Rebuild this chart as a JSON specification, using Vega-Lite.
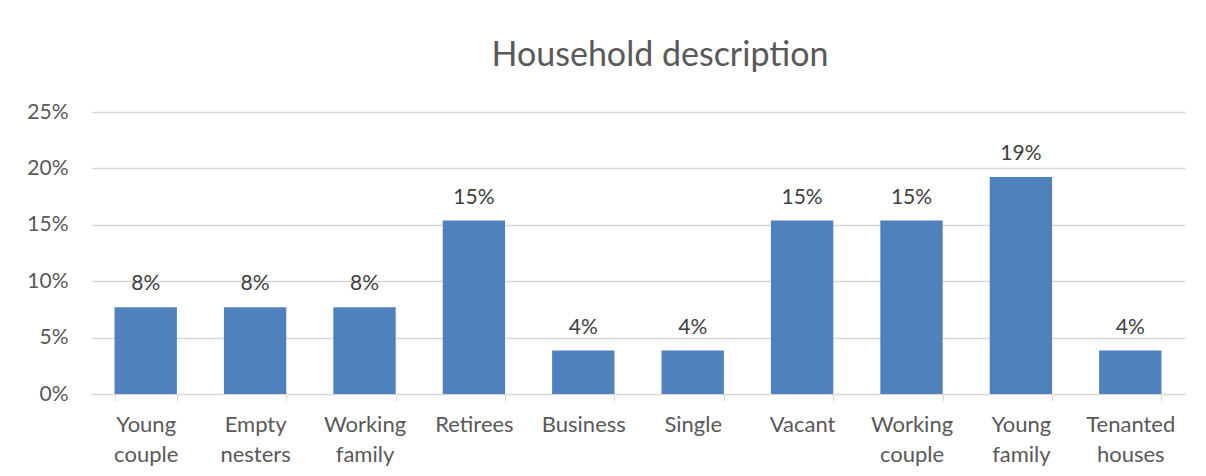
{
  "$schema": "https://vega.github.io/schema/vega-lite/v6.json",
  "width": 1094,
  "height": 282,
  "autosize": "none",
  "padding": {"left": 91, "top": 112, "right": 21, "bottom": 82},
  "background": "white",
  "title": {
    "text": "Household description",
    "font": "Lato",
    "fontSize": 34,
    "fontWeight": "normal",
    "color": "#595959",
    "anchor": "middle",
    "dx": 22,
    "offset": 28
  },
  "data": {
    "values": [
      {"category": "Young couple", "share": 0.0769},
      {"category": "Empty nesters", "share": 0.0769},
      {"category": "Working family", "share": 0.0769},
      {"category": "Retirees", "share": 0.1538},
      {"category": "Business", "share": 0.0385},
      {"category": "Single", "share": 0.0385},
      {"category": "Vacant", "share": 0.1538},
      {"category": "Working couple", "share": 0.1538},
      {"category": "Young family", "share": 0.1923},
      {"category": "Tenanted houses", "share": 0.0385}
    ]
  },
  "config": {
    "view": {"stroke": null},
    "font": "Lato"
  },
  "encoding": {
    "x": {
      "field": "category",
      "type": "nominal",
      "sort": null,
      "scale": {"paddingInner": 0.43, "paddingOuter": 0.215},
      "axis": {
        "title": null,
        "labelAngle": 0,
        "labelExpr": "split(datum.label, ' ')",
        "labelFont": "Lato",
        "labelFontSize": 22,
        "labelColor": "#595959",
        "labelLineHeight": 30,
        "labelPadding": 13,
        "labelBaseline": "top",
        "domainColor": "#D9D9D9",
        "tickColor": "#D9D9D9",
        "tickSize": 7,
        "tickBand": "extent",
        "grid": false
      }
    },
    "y": {
      "field": "share",
      "type": "quantitative",
      "scale": {"domain": [0, 0.25]},
      "axis": {
        "title": null,
        "format": ".0%",
        "values": [0, 0.05, 0.1, 0.15, 0.2, 0.25],
        "labelFont": "Lato",
        "labelFontSize": 21,
        "labelColor": "#595959",
        "labelPadding": 23,
        "domain": false,
        "ticks": false,
        "gridColor": "#D9D9D9",
        "gridWidth": 1.3
      }
    }
  },
  "layer": [
    {"mark": {"type": "bar", "color": "#4F81BD"}},
    {
      "mark": {"type": "text", "baseline": "alphabetic", "dy": -17, "fontSize": 21, "color": "#404040", "font": "Lato"},
      "encoding": {"text": {"field": "share", "format": ".0%"}}
    }
  ]
}
